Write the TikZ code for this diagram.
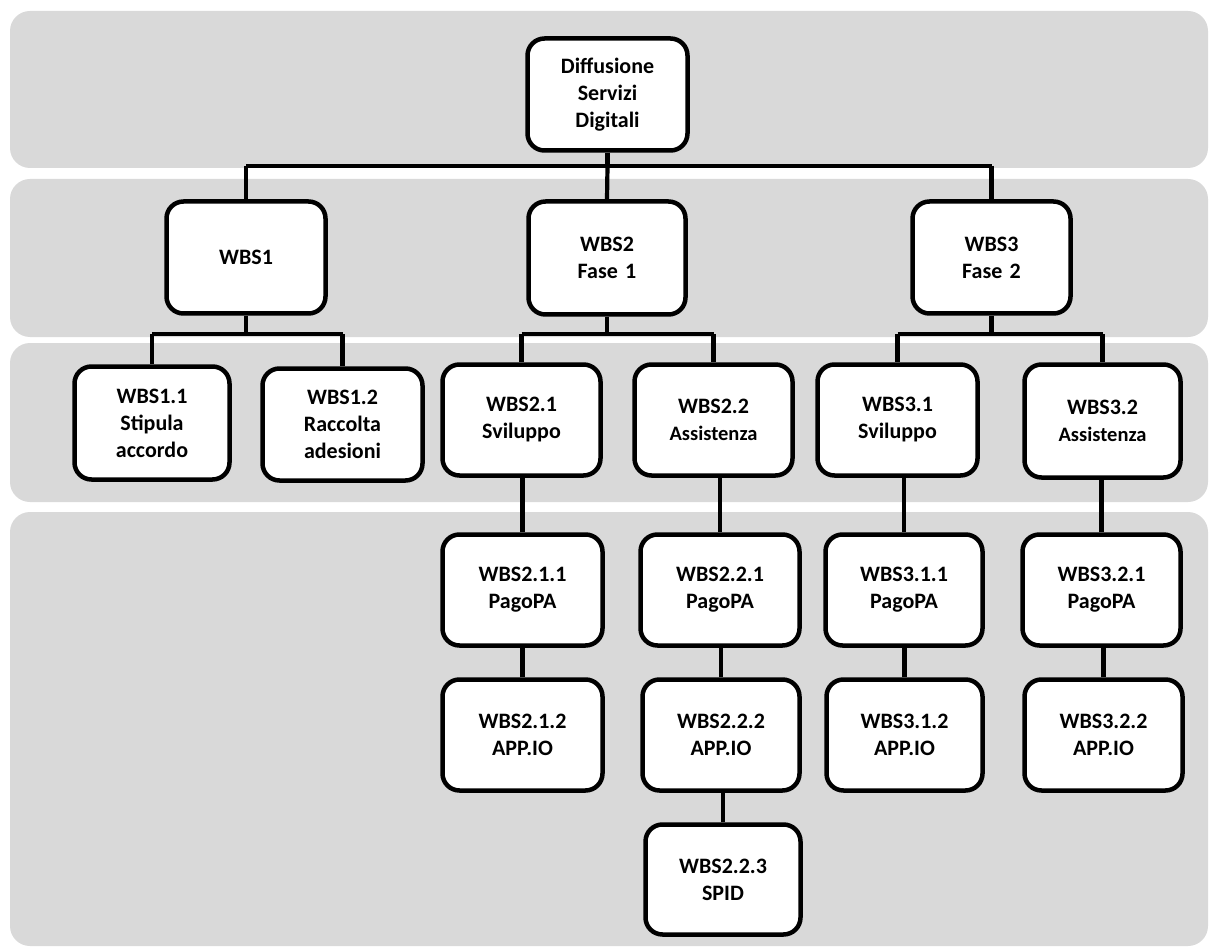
\documentclass[tikz,border=0pt]{standalone}
\usepackage{fontspec}
\setmainfont{Carlito}
\begin{document}
\begin{tikzpicture}[x=1pt,y=-1pt,
  band/.style={fill=bandgray,draw=none,rounded corners=20pt},
  box/.style={draw=black,fill=white,line width=4.5pt,rounded corners=17pt,
    align=center,inner sep=0pt,text width=150pt,
    font=\fontsize{22}{27}\selectfont\bfseries},
  conn/.style={draw=black,line width=4.2pt}]
\definecolor{bandgray}{RGB}{217,217,217}
\useasboundingbox (0,0) rectangle (1209,949);
% bands
\fill[band] (10,11) rectangle (1208,168);
\fill[band] (10,179) rectangle (1208,337);
\fill[band] (10,343) rectangle (1208,502);
\fill[band] (10,512) rectangle (1208,946);
% nodes
\node[box,minimum width=160pt,minimum height=112pt] (root) at (607.5,94.5) {Diffusione\\Servizi\\Digitali};
\node[box,minimum width=159pt,minimum height=112pt] (w1) at (246,257.5) {WBS1};
\node[box,minimum width=157pt,minimum height=113pt] (w2) at (607,258) {WBS2\\Fase 1};
\node[box,minimum width=158pt,minimum height=112pt] (w3) at (991.5,257.5) {WBS3\\Fase 2};
\node[box,minimum width=155pt,minimum height=113pt] (w11) at (152,423) {WBS1.1\\Stipula\\accordo};
\node[box,minimum width=160pt,minimum height=112pt] (w12) at (342.5,424.5) {WBS1.2\\Raccolta\\adesioni};
\node[box,minimum width=158pt,minimum height=111pt] (w21) at (521.5,420) {WBS2.1\\Sviluppo};
\node[box,minimum width=158pt,minimum height=111pt] (w22) at (713.5,420) {WBS2.2\\{\fontsize{20.5}{27}\selectfont Assistenza}};
\node[box,minimum width=160pt,minimum height=111pt] (w31) at (897.5,420) {WBS3.1\\Sviluppo};
\node[box,minimum width=156pt,minimum height=113pt] (w32) at (1102.5,421) {WBS3.2\\{\fontsize{20.5}{27}\selectfont Assistenza}};
\node[box,minimum width=160pt,minimum height=111pt] (w211) at (522.5,590) {WBS2.1.1\\PagoPA};
\node[box,minimum width=160pt,minimum height=111pt] (w212) at (522.5,735) {WBS2.1.2\\APP.IO};
\node[box,minimum width=159pt,minimum height=111pt] (w221) at (720,590) {WBS2.2.1\\PagoPA};
\node[box,minimum width=157pt,minimum height=111pt] (w222) at (721,735) {WBS2.2.2\\APP.IO};
\node[box,minimum width=155pt,minimum height=110pt] (w223) at (723,879.5) {WBS2.2.3\\SPID};
\node[box,minimum width=157pt,minimum height=111pt] (w311) at (904,590) {WBS3.1.1\\PagoPA};
\node[box,minimum width=156pt,minimum height=111pt] (w312) at (904.5,735) {WBS3.1.2\\APP.IO};
\node[box,minimum width=158pt,minimum height=111pt] (w321) at (1101.5,590) {WBS3.2.1\\PagoPA};
\node[box,minimum width=158pt,minimum height=111pt] (w322) at (1103.5,735) {WBS3.2.2\\APP.IO};
% connectors
\coordinate (t0) at (607.5,166);
\coordinate (t1) at (246,334);
\coordinate (t2) at (607,334);
\coordinate (t3) at (991.5,334);
\draw[conn] (root.south) -- (t0);
\draw[conn] (t0 -| w1.north) -- (t0 -| w3.north);
\draw[conn] (t0 -| w1.north) -- (w1.north);
\draw[conn] (t0) -- (w2.north);
\draw[conn] (t0 -| w3.north) -- (w3.north);
\draw[conn] (w1.south) -- (t1);
\draw[conn] (t1 -| w11.north) -- (t1 -| w12.north);
\draw[conn] (t1 -| w11.north) -- (w11.north);
\draw[conn] (t1 -| w12.north) -- (w12.north);
\draw[conn] (w2.south) -- (t2);
\draw[conn] (t2 -| w21.north) -- (t2 -| w22.north);
\draw[conn] (t2 -| w21.north) -- (w21.north);
\draw[conn] (t2 -| w22.north) -- (w22.north);
\draw[conn] (w3.south) -- (t3);
\draw[conn] (t3 -| w31.north) -- (t3 -| w32.north);
\draw[conn] (t3 -| w31.north) -- (w31.north);
\draw[conn] (t3 -| w32.north) -- (w32.north);
\draw[conn] (w211.north) -- (w211.north |- w21.south);
\draw[conn] (w212.north) -- (w212.north |- w211.south);
\draw[conn] (w221.north) -- (w221.north |- w22.south);
\draw[conn] (w222.north) -- (w222.north |- w221.south);
\draw[conn] (w223.north) -- (w223.north |- w222.south);
\draw[conn] (w311.north) -- (w311.north |- w31.south);
\draw[conn] (w312.north) -- (w312.north |- w311.south);
\draw[conn] (w321.north) -- (w321.north |- w32.south);
\draw[conn] (w322.north) -- (w322.north |- w321.south);
\end{tikzpicture}
\end{document}
